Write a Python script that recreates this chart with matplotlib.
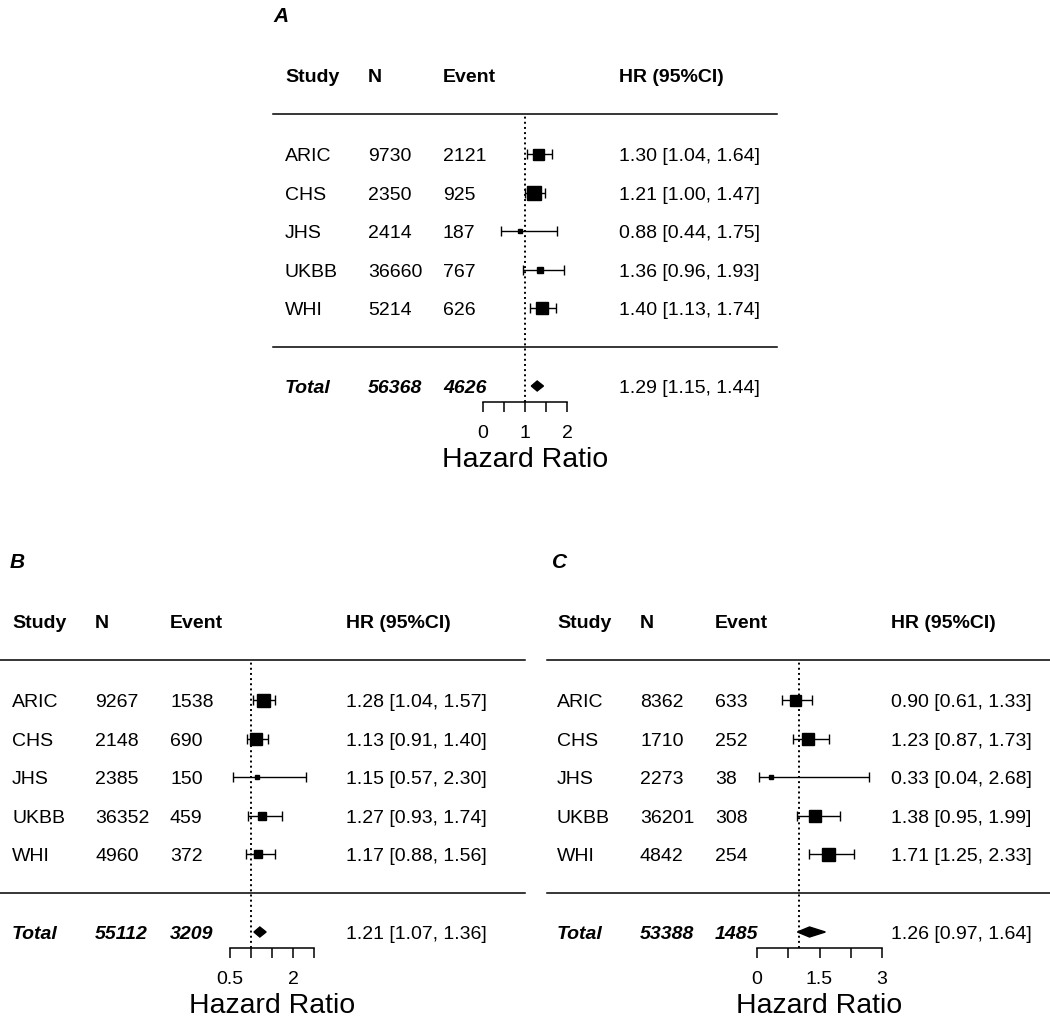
import matplotlib.pyplot as plt
from matplotlib.patches import Polygon

plt.rcParams['font.family'] = ['Liberation Sans', 'DejaVu Sans']

W, H = 1050, 1018

studies = ["ARIC", "CHS", "JHS", "UKBB", "WHI"]

# Panel A
n_a = [9730, 2350, 2414, 36660, 5214]
event_a = [2121, 925, 187, 767, 626]
hr_a = [1.30, 1.21, 0.88, 1.36, 1.40]
lo_a = [1.04, 1.00, 0.44, 0.96, 1.13]
hi_a = [1.64, 1.47, 1.75, 1.93, 1.74]
weight_a = [11, 14, 4, 6, 12]
total_a = [56368, 4626, 1.29, 1.15, 1.44]

# Panel B
n_b = [9267, 2148, 2385, 36352, 4960]
event_b = [1538, 690, 150, 459, 372]
hr_b = [1.28, 1.13, 1.15, 1.27, 1.17]
lo_b = [1.04, 0.91, 0.57, 0.93, 0.88]
hi_b = [1.57, 1.40, 2.30, 1.74, 1.56]
weight_b = [13, 12, 4, 8, 8]
total_b = [55112, 3209, 1.21, 1.07, 1.36]

# Panel C
n_c = [8362, 1710, 2273, 36201, 4842]
event_c = [633, 252, 38, 308, 254]
hr_c = [0.90, 1.23, 0.33, 1.38, 1.71]
lo_c = [0.61, 0.87, 0.04, 0.95, 1.25]
hi_c = [1.33, 1.73, 2.68, 1.99, 2.33]
weight_c = [11, 12, 4, 12, 13]
total_c = [53388, 1485, 1.26, 0.97, 1.64]

ticks_a = [0, 0.5, 1, 1.5, 2]
ticklabels_a = ["0", "", "1", "", "2"]
ticks_b = [0.5, 1, 1.5, 2, 2.5]
ticklabels_b = ["0.5", "", "", "2", ""]
ticks_c = [0, 0.75, 1.5, 2.25, 3]
ticklabels_c = ["0", "", "1.5", "", "3"]

FS = 14
ROW_STEP = 38.6

fig = plt.figure(figsize=(W / 100, H / 100), dpi=100)
base = fig.add_axes([0, 0, 1, 1])
base.set_xlim(0, W)
base.set_ylim(H, 0)
base.axis("off")


def put(x, yc, s, fs=FS, **kw):
    # place text by the vertical centre of its capitals
    base.text(x, yc + 0.36 * fs * 100 / 72, s, fontsize=fs, va="baseline", **kw)


def draw_panel(label, left, title_x, dy, line_x, forest, n, event, hr, lo, hi,
               weight, total, ticks, ticklabels):
    cols = [left + 12, left + 95, left + 170, left + 346]
    put(title_x, dy + 14, label, fs=15, fontweight="bold", fontstyle="italic")
    for x, s in zip(cols, ["Study", "N", "Event", "HR (95%CI)"]):
        put(x, dy + 75, s, fontweight="bold")
    base.plot(line_x, [dy + 114, dy + 114], color="black", lw=1.1)
    base.plot(line_x, [dy + 347, dy + 347], color="black", lw=1.1)

    rows = [dy + 154 + ROW_STEP * i for i in range(len(studies))]
    for y, s, nn, ev, h, l, u in zip(rows, studies, n, event, hr, lo, hi):
        put(cols[0], y, s)
        put(cols[1], y, str(nn))
        put(cols[2], y, str(ev))
        put(cols[3], y, f"{h:.2f} [{l:.2f}, {u:.2f}]")

    ty = dy + 386
    put(cols[0], ty, "Total", fontweight="bold", fontstyle="italic")
    put(cols[1], ty, str(total[0]), fontweight="bold", fontstyle="italic")
    put(cols[2], ty, str(total[1]), fontweight="bold", fontstyle="italic")
    put(cols[3], ty, f"{total[2]:.2f} [{total[3]:.2f}, {total[4]:.2f}]")

    # forest column
    x0, x1, xlo, xhi = forest
    top, bot = dy + 114, dy + 402
    ax = fig.add_axes([x0 / W, 1 - bot / H, (x1 - x0) / W, (bot - top) / H])
    ax.set_xlim(xlo, xhi)
    ax.set_ylim(bot, top)
    ax.patch.set_visible(False)
    for sp in ["top", "left", "right"]:
        ax.spines[sp].set_visible(False)
    ax.spines["bottom"].set_linewidth(1.1)
    ax.set_yticks([])
    ax.set_xticks(ticks)
    ax.set_xticklabels(ticklabels, fontsize=14)
    ax.tick_params(axis="x", direction="out", length=7.2, width=1.1, pad=9)
    ax.axvline(1, color="black", ls=":", lw=1.4)

    for y, h, l, u, w in zip(rows, hr, lo, hi, weight):
        ax.errorbar(h, y, xerr=[[h - l], [u - h]], fmt="none", ecolor="black",
                    elinewidth=1.0, capsize=3.5, capthick=1.0, clip_on=False)
        ax.plot(h, y, marker="s", ms=w * 0.72, color="black", mec="black",
                lw=0, clip_on=False)

    dh = 5
    ax.add_patch(Polygon([(total[3], ty), (total[2], ty - dh), (total[4], ty),
                          (total[2], ty + dh)], closed=True, color="black",
                         clip_on=False))

    base.text((x0 + x1) / 2, dy + 457 + 0.36 * 20.5 * 100 / 72, "Hazard Ratio",
              fontsize=20.5, ha="center", va="baseline")


draw_panel("A", 273, 273, 0, [273, 777], (483, 567, 0, 2),
           n_a, event_a, hr_a, lo_a, hi_a, weight_a, total_a, ticks_a, ticklabels_a)
draw_panel("B", 0, 10, 546, [0, 525], (230, 314, 0.5, 2.5),
           n_b, event_b, hr_b, lo_b, hi_b, weight_b, total_b, ticks_b, ticklabels_b)
draw_panel("C", 545, 552, 546, [547, 1050], (757, 882, 0, 3),
           n_c, event_c, hr_c, lo_c, hi_c, weight_c, total_c, ticks_c, ticklabels_c)

fig.savefig("out.png", dpi=100)
